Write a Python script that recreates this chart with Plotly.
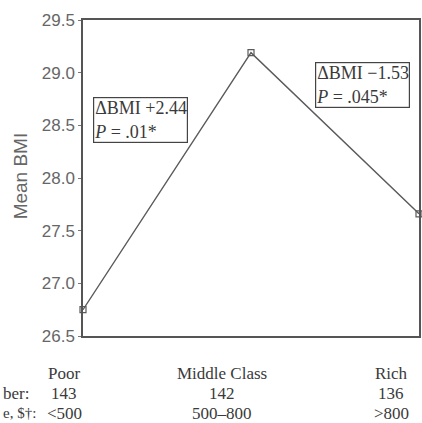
import plotly.graph_objects as go

# Mean BMI by income group
groups = ["Poor", "Middle Class", "Rich"]
mean_bmi = [26.75, 29.19, 27.66]
group_n = ["143", "142", "136"]
income_band = ["<500", "500\u2013800", ">800"]
row_heads = ["ber:", "e, $\u2020:"]
y_ticks = [26.5, 27.0, 27.5, 28.0, 28.5, 29.0, 29.5]

W, H = 422, 423
L, R, T, B = 83, 1, 20, 87
plot_w = W - L - R
plot_h = H - T - B


def px_x(px):
    return (px - L) / plot_w


def px_y(py):
    return (H - B - py) / plot_h


serif = "Liberation Serif, Times New Roman, serif"
sans = "Liberation Sans, Arial, sans-serif"
ink = "#3a3a3a"

fig = go.Figure()
fig.add_trace(go.Scatter(
    x=list(range(len(groups))),
    y=mean_bmi,
    mode="lines+markers",
    line=dict(color="#5a5a5a", width=1.4),
    marker=dict(symbol="square-open", size=6, color="#5a5a5a", line=dict(width=1.2)),
    cliponaxis=False,
    showlegend=False,
))

annotations = []
# group names, sample sizes and income bands under each point
label_x = [64, 223, 393]
for i, g in enumerate(groups):
    for txt, py in [(g, 373), (group_n[i], 393), (income_band[i], 413)]:
        annotations.append(dict(
            x=px_x(label_x[i]), y=px_y(py), xref="paper", yref="paper",
            text=txt, showarrow=False, xanchor="center", yanchor="middle",
            font=dict(family=serif, size=17, color=ink),
        ))

# row headings at the left edge
for txt, start_x, py, fs in [(row_heads[0], 1, 393, 17), (row_heads[1], 1, 413, 15)]:
    annotations.append(dict(
        x=px_x(start_x), y=px_y(py), xref="paper", yref="paper",
        text=txt, showarrow=False, xanchor="left", yanchor="middle",
        font=dict(family=serif, size=fs, color=ink),
    ))

# change-in-BMI boxes
delta_up = round(mean_bmi[1] - mean_bmi[0], 2)
delta_down = round(mean_bmi[2] - mean_bmi[1], 2)
for txt, p_txt, bx, by in [
    (f"\u0394BMI +{delta_up:.2f}", ".01*", 93, 97),
    (f"\u0394BMI \u2212{abs(delta_down):.2f}", ".045*", 316, 62),
]:
    annotations.append(dict(
        x=px_x(bx), y=px_y(by), xref="paper", yref="paper",
        text=f"{txt}<br><i>P</i> = {p_txt}",
        showarrow=False, xanchor="left", yanchor="top", align="left",
        font=dict(family=serif, size=18, color=ink),
        bordercolor="#444444", borderwidth=1.2, borderpad=0,
        bgcolor="white",
    ))

# y-axis title
annotations.append(dict(
    x=px_x(20), y=px_y(176), xref="paper", yref="paper",
    text="Mean BMI", textangle=-90, showarrow=False,
    xanchor="center", yanchor="middle",
    font=dict(family=sans, size=19, color="#666666"),
))

fig.update_layout(
    width=W, height=H,
    margin=dict(l=L, r=R, t=T, b=B, pad=0),
    paper_bgcolor="white", plot_bgcolor="white",
    annotations=annotations,
    xaxis=dict(
        range=[0, len(groups) - 1], showticklabels=False, ticks="",
        showgrid=False, zeroline=False,
        showline=True, mirror=True, linecolor="#555555", linewidth=1.5,
    ),
    yaxis=dict(
        range=[y_ticks[0], y_ticks[-1]], tickvals=y_ticks,
        ticktext=[f"{v:.1f}" for v in y_ticks],
        ticks="outside", ticklen=3, tickcolor="#777777",
        tickfont=dict(family=sans, size=17, color="#666666"),
        showgrid=False, zeroline=False,
        showline=True, mirror=True, linecolor="#555555", linewidth=1.5,
    ),
)

fig.write_html("out.html")
